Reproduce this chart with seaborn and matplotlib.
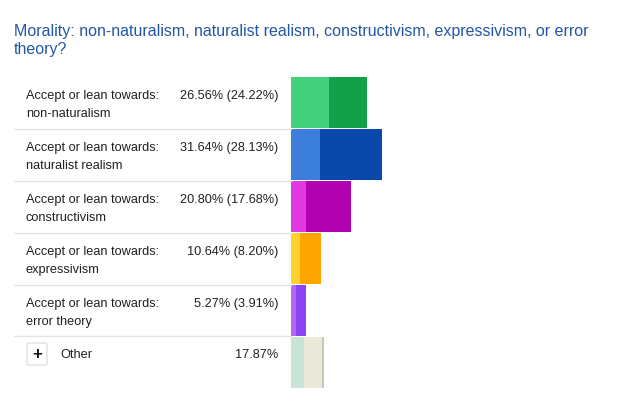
import numpy as np
import pandas as pd
import seaborn as sns
import matplotlib.pyplot as plt
from matplotlib.patches import FancyBboxPatch
from matplotlib.transforms import blended_transform_factory

sns.set_style('white')
plt.rcParams['font.family'] = ['Liberation Sans', 'DejaVu Sans']

# data
rows = ['non-naturalism', 'naturalist realism', 'constructivism',
        'expressivism', 'error theory', 'Other']
total_pct = [26.56, 31.64, 20.80, 10.64, 5.27, 17.87]
accept_pct = [24.22, 28.13, 17.68, 8.20, 3.91, None]
# bar segment widths (percent scale of the bars)
bar_full = [26.56, 31.64, 20.80, 10.64, 5.27, 11.4]
bar_mid = [26.56, 31.64, 20.80, 10.64, 5.27, 10.7]
bar_lean = [13.4, 10.15, 5.4, 3.2, 1.85, 4.7]

dark_cols = ['#12a04b', '#0a48aa', '#b000b0', '#ffa500', '#8e44f5', '#ebe9da']
light_cols = ['#45d07e', '#3b7fdb', '#e23ae2', '#ffd12e', '#b06af7', '#c9e3d6']
edge_col = '#c7c7c0'

W, H = 624, 403
fig = plt.figure(figsize=(W / 100, H / 100), dpi=100)

x0, ytop, ybot = 290.7, 77.0, 388.3
px_per_pct = 2.885
ax = fig.add_axes([x0 / W, 1 - ybot / H, (W - x0) / W, (ybot - ytop) / H])

df = pd.DataFrame({'row': rows, 'full': bar_full, 'mid': bar_mid, 'lean': bar_lean})
full_cols = dark_cols[:5] + [edge_col]
for col, pal in [('full', full_cols), ('mid', dark_cols), ('lean', light_cols)]:
    sns.barplot(data=df, x=col, y='row', hue='row', order=rows, hue_order=rows,
                palette=pal, orient='h', width=0.985, saturation=1,
                legend=False, linewidth=0, edgecolor='none', ax=ax)

ax.set_xlim(0, (W - x0) / px_per_pct)
ax.set_ylim(5.5, -0.5)
ax.axis('off')

# row separators
row_h = (ybot - ytop) / 6
for i in range(5):
    ax.axhline(i + 0.5, xmin=(14 - x0) / (W - x0), xmax=0, clip_on=False,
               color='#e4e4e4', lw=1)

trans = blended_transform_factory(fig.transFigure, ax.transData)
fs = 9.2
tc = '#202020'
for i, name in enumerate(rows):
    y1 = i - 0.5 + 22 / row_h
    y2 = i - 0.5 + 40 / row_h
    if name == 'Other':
        ax.text(60 / W, y1, 'Other', transform=trans, fontsize=fs, color=tc, va='baseline')
        ax.text(278 / W, y1, f'{total_pct[i]:.2f}%', transform=trans, fontsize=fs,
                color=tc, va='baseline', ha='right')
        box = FancyBboxPatch((27 / W, 1 - 365 / H), 20 / W, 22 / H,
                             boxstyle='round,pad=0,rounding_size=0.004',
                             transform=fig.transFigure, facecolor='white',
                             edgecolor='#d8d8d8', lw=0.8)
        fig.patches.append(box)
        fig.text(37 / W, 1 - 354 / H, '+', fontsize=12, fontweight='bold',
                 ha='center', va='center', color='#111111')
        continue
    ax.text(26 / W, y1, 'Accept or lean towards:', transform=trans, fontsize=fs,
            color=tc, va='baseline')
    ax.text(26 / W, y2, name, transform=trans, fontsize=fs, color=tc, va='baseline')
    ax.text(278 / W, y1, f'{total_pct[i]:.2f}% ({accept_pct[i]:.2f}%)', transform=trans,
            fontsize=fs, color=tc, va='baseline', ha='right')

title_col = '#2257a5'
fig.text(14 / W, 1 - 36 / H,
         'Morality: non-naturalism, naturalist realism, constructivism, expressivism, or error',
         fontsize=11.5, color=title_col, va='baseline')
fig.text(14 / W, 1 - 54 / H, 'theory?', fontsize=11.5, color=title_col, va='baseline')

fig.savefig('out.png', dpi=100)
